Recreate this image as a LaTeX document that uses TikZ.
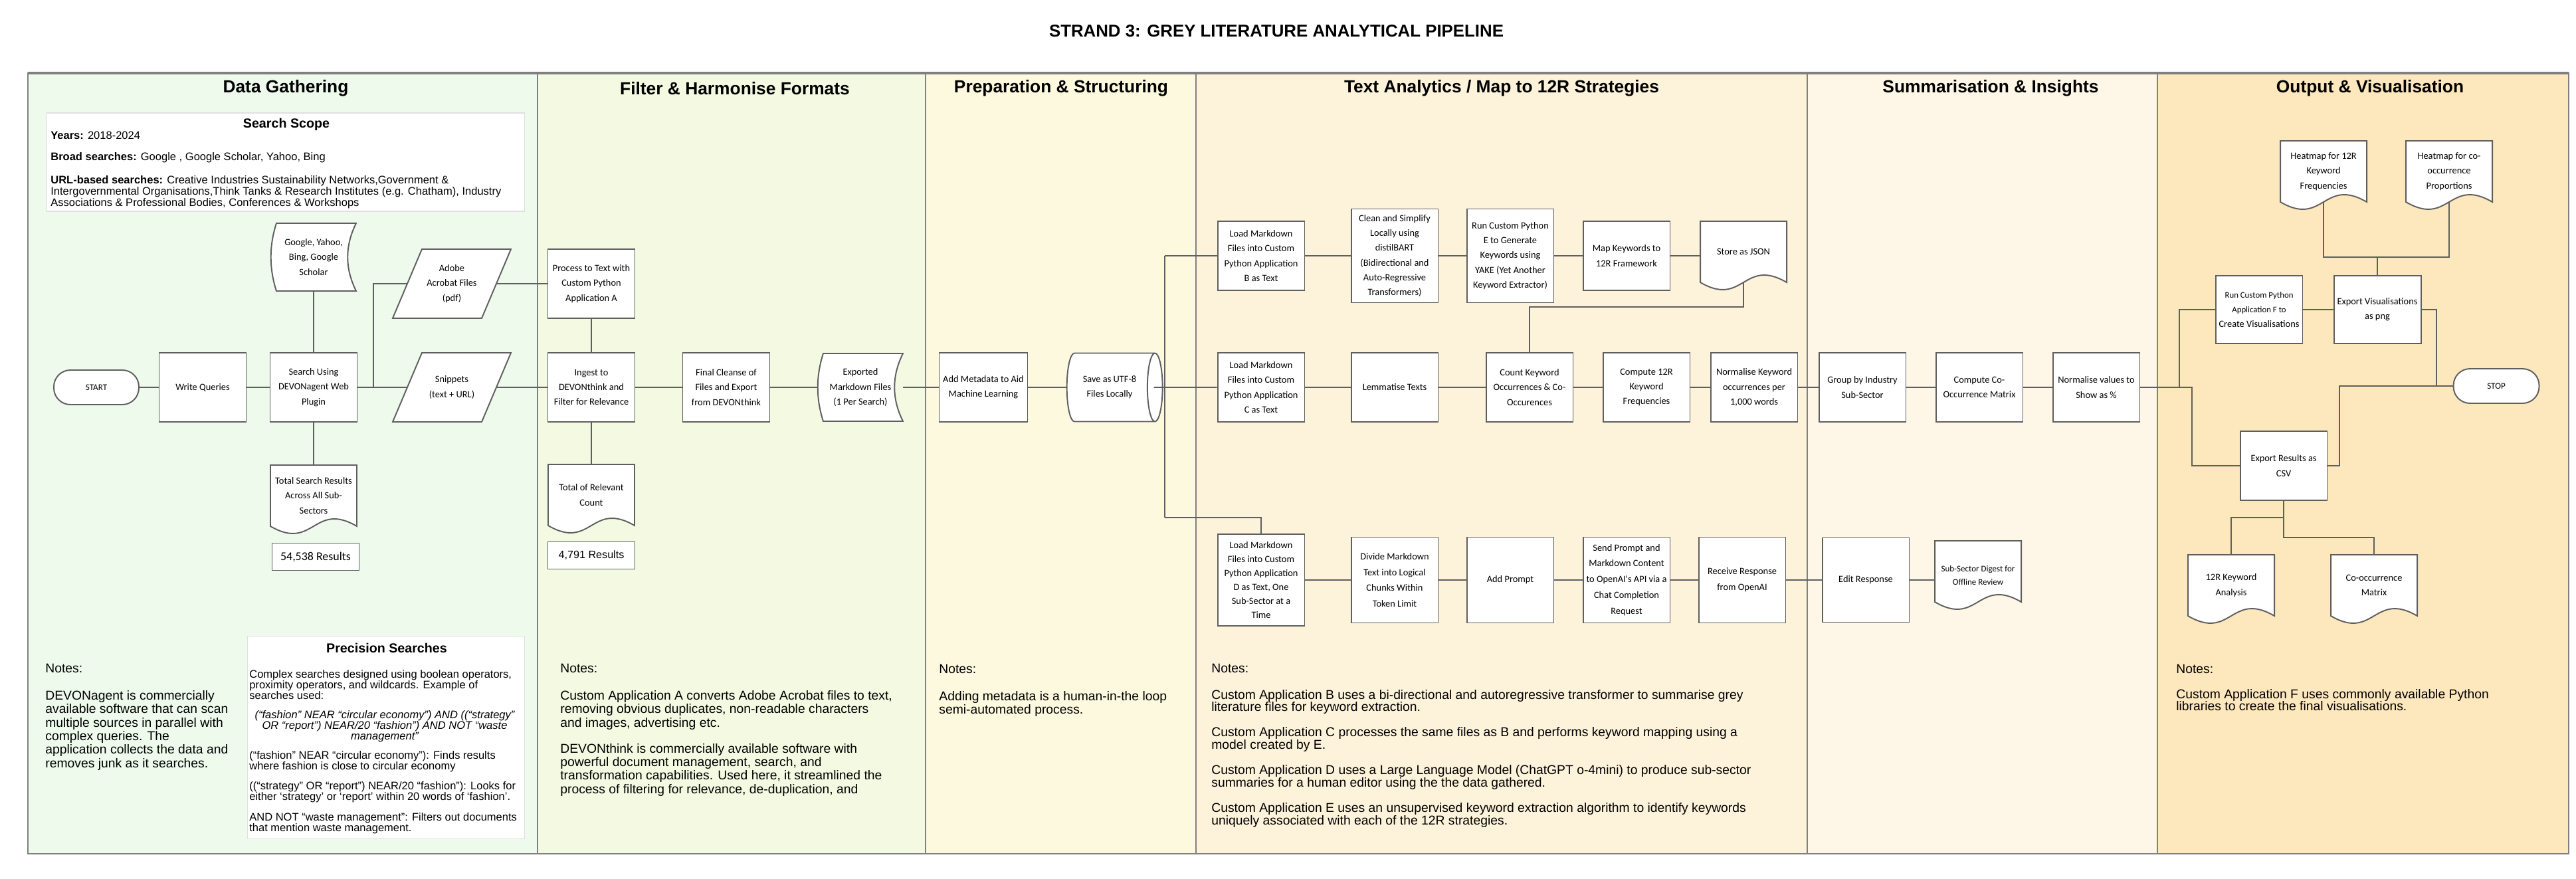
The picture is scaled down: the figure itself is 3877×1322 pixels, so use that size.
\documentclass[tikz,border=0pt]{standalone}
\usepackage{fontspec}
\setmainfont{Liberation Sans}
\newfontfamily\calibrifont{Carlito}
\usepackage{tikz}
\usetikzlibrary{shapes.geometric,positioning,calc}
\definecolor{lanegreen}{RGB}{237,250,236}
\definecolor{lanelime}{RGB}{244,250,226}
\definecolor{laneyellow}{RGB}{253,249,222}
\definecolor{lanepeach}{RGB}{253,242,218}
\definecolor{lanecream}{RGB}{254,247,231}
\definecolor{laneorange}{RGB}{253,231,189}
\definecolor{edgegrey}{RGB}{95,95,95}
\definecolor{laneline}{RGB}{128,128,128}
\newcommand{\boxfont}{\fontsize{8.2}{12.7}\selectfont\calibrifont}

\begin{document}
\begin{tikzpicture}[x=0.02cm, y=-0.02cm,
  lane/.style={draw=laneline, line width=1.1pt},
  lanetitle/.style={font=\fontsize{15}{18}\selectfont\bfseries},
  box/.style={rectangle, draw=edgegrey, line width=1.1pt, fill=white, minimum width=2.62cm,
    minimum height=2.08cm, align=center, inner sep=1pt, font=\boxfont},
  tall/.style={box, minimum height=2.82cm},
  rowd/.style={box, minimum height=2.58cm, font=\fontsize{8.2}{13.6}\selectfont\calibrifont},
  term/.style={box, rounded corners=0.5cm, minimum width=2.56cm, minimum height=1.04cm,
    font=\fontsize{7.5}{9}\selectfont\calibrifont},
  store/.style={cylinder, aspect=0.6, draw=edgegrey, line width=1.1pt, fill=white,
    minimum width=2.06cm, minimum height=2.88cm, align=center, inner sep=1pt, font=\boxfont},
  shapetext/.style={rectangle, minimum width=2.6cm, minimum height=1.84cm, inner sep=0pt,
    align=center, font=\boxfont},
  result/.style={box, minimum height=0.82cm, font=\fontsize{10.2}{12}\selectfont\calibrifont},
  conn/.style={draw=edgegrey, line width=1.1pt},
  notes/.style={anchor=north west, align=left, inner sep=0pt, font=\fontsize{11}{11.6}\selectfont},
  panel/.style={rectangle, fill=white, draw=black!12, line width=0.6pt},
  paneltitle/.style={font=\fontsize{11.2}{13}\selectfont\bfseries},
  paneltext/.style={inner sep=0pt, font=\fontsize{9.4}{9.2}\selectfont},
  docshape/.pic={\filldraw[draw=edgegrey, line width=1.1pt, fill=white]
    (-65,-46) -- (65,-46) -- (65,46) .. controls (0,8) and (0,84) .. (-65,46) -- cycle;},
  storedshape/.pic={\filldraw[draw=edgegrey, line width=1.1pt, fill=white]
    (-56,-51) -- (64,-51) .. controls (47,-17) and (47,17) .. (64,51)
    -- (-56,51) .. controls (-67,17) and (-67,-17) .. (-56,-51) -- cycle;},
  ioshape/.pic={\filldraw[draw=edgegrey, line width=1.1pt, fill=white]
    (-89,52) -- (45,52) -- (89,-52) -- (-45,-52) -- cycle;}]

\fill[white] (0,0) rectangle (3877,1322);
\useasboundingbox (0,0) rectangle (3877,1322);

% swimlanes
\draw[lane, fill=lanegreen] (42,110) rectangle (809,1285);
\draw[lane, fill=lanelime] (809,110) rectangle (1393,1285);
\draw[lane, fill=laneyellow] (1393,110) rectangle (1800,1285);
\draw[lane, fill=lanepeach] (1800,110) rectangle (2720,1285);
\draw[lane, fill=lanecream] (2720,110) rectangle (3247,1285);
\draw[lane, fill=laneorange] (3247,110) rectangle (3866,1285);
\draw[laneline, line width=2.4pt] (42,110) -- (3866,110);

\node[font=\fontsize{14.7}{17}\selectfont\bfseries] (title) at (1921,47) {STRAND 3: GREY LITERATURE ANALYTICAL PIPELINE};
\node[lanetitle] (gathering) at (430,133) {Data Gathering};
\node[lanetitle] (filtering) at (1106,133) {Filter \& Harmonise Formats};
\node[lanetitle] (preparing) at (1597,133) {Preparation \& Structuring};
\node[lanetitle] (analytics) at (2260,133) {Text Analytics / Map to 12R Strategies};
\node[lanetitle] (insights) at (2996,133) {Summarisation \& Insights};
\node[lanetitle] (outputs) at (3567,133) {Output \& Visualisation};

% search scope panel
\node[panel, minimum width=14.38cm, minimum height=2.96cm] (scope) at (430,244) {};
\node[paneltitle] (scopehead) at (431,187) {Search Scope};
\node[paneltext, anchor=north west, align=left, font=\fontsize{9.4}{9.64}\selectfont] (scopetext) at (76,198)
  {\textbf{Years:} 2018-2024\\[8.5pt]
   \textbf{Broad searches:} Google , Google Scholar, Yahoo, Bing\\[10.2pt]
   \textbf{URL-based searches:} Creative Industries Sustainability Networks,Government \&\\
   Intergovernmental Organisations,Think Tanks \& Research Institutes (e.g. Chatham), Industry\\
   Associations \& Professional Bodies, Conferences \& Workshops};

% data gathering
\node[term] (start) at (145,583) {START};
\node[box] (write) at (305,583) {Write Queries};
\node[box] (search) at (472,583) {Search Using\\DEVONagent Web\\Plugin};
\pic at (472,387) {storedshape};
\node[shapetext, minimum width=2.56cm, minimum height=2.04cm] (engines) at (472,387) {Google, Yahoo,\\Bing, Google\\Scholar};
\pic at (680,427) {ioshape};
\node[shapetext, minimum width=2.68cm, minimum height=2.08cm] (adobe) at (680,427) {Adobe\\Acrobat Files\\(pdf)};
\pic at (680,583) {ioshape};
\node[shapetext, minimum width=2.68cm, minimum height=2.08cm] (snippets) at (680,583) {Snippets\\(text + URL)};
\pic at (472,746) {docshape};
\node[shapetext] (total1) at (472,746) {Total Search Results\\Across All Sub-\\Sectors};
\node[result] (res1) at (475,838) {54,538 Results};

\node[notes] (notes1) at (68,999) {Notes:\\[11.6pt]DEVONagent is commercially\\available software that can scan\\multiple sources in parallel with\\complex queries. The\\application collects the data and\\removes junk as it searches.};

% precision searches panel
\node[panel, minimum width=8.34cm, minimum height=6.1cm] (precision) at (581,1110) {};
\node[paneltitle] (precisionhead) at (582,975) {Precision Searches};
\node[paneltext, anchor=north west, align=left] (precisionA) at (375,1008)
  {Complex searches designed using boolean operators,\\proximity operators, and wildcards. Example of\\searches used:};
\node[paneltext, anchor=north, align=center, font=\fontsize{9.4}{9.2}\selectfont\itshape] (precisionB) at (579,1069)
  {(“fashion” NEAR “circular economy”) AND ((“strategy”\\OR “report”) NEAR/20 “fashion”) AND NOT “waste\\management”};
\node[paneltext, anchor=north west, align=left] (precisionC) at (375,1130)
  {(“fashion” NEAR “circular economy”): Finds results\\where fashion is close to circular economy\\[8pt]
   ((“strategy” OR “report”) NEAR/20 “fashion”): Looks for\\either ‘strategy’ or ‘report’ within 20 words of ‘fashion’.\\[8pt]
   AND NOT “waste management”: Filters out documents\\that mention waste management.};

% filter and harmonise
\node[box] (process) at (890,427) {Process to Text with\\Custom Python\\Application A};
\node[box] (ingest) at (890,583) {Ingest to\\DEVONthink and\\Filter for Relevance};
\node[box] (final) at (1093,583) {Final Cleanse of\\Files and Export\\from DEVONthink};
\pic at (1295,583) {storedshape};
\node[shapetext, minimum width=2.56cm, minimum height=2.04cm] (exported) at (1295,583) {Exported\\Markdown Files\\(1 Per Search)};
\pic at (890,745) {docshape};
\node[shapetext] (total2) at (890,745) {Total of Relevant\\Count};
\node[result, font=\fontsize{9.2}{11}\selectfont] (res2) at (890,836) {4,791 Results};

\node[notes] (notes2) at (843,999) {Notes:\\[11.6pt]Custom Application A converts Adobe Acrobat files to text,\\removing obvious duplicates, non-readable characters\\and images, advertising etc.\\[10.5pt]DEVONthink is commercially available software with\\powerful document management, search, and\\transformation capabilities. Used here, it streamlined the\\process of filtering for relevance, de-duplication, and};

% preparation
\node[box, minimum width=2.66cm] (meta) at (1480,583) {Add Metadata to Aid\\Machine Learning};
\node[store] (save) at (1670,583) {Save as UTF-8\\Files Locally};

\node[notes] (notes3) at (1413,1000) {Notes:\\[11.6pt]Adding metadata is a human-in-the loop\\semi-automated process.};

% text analytics
\coordinate (busT) at (1753,385);
\coordinate (busB) at (1753,779);
\node[box] (loadB) at (1898,385) {Load Markdown\\Files into Custom\\Python Application\\B  as Text};
\node[tall] (clean) at (2099,385) {Clean and Simplify\\Locally using\\distilBART\\(Bidirectional and\\Auto-Regressive\\Transformers)};
\node[tall] (runE) at (2273,385) {Run Custom Python\\E to Generate\\Keywords using\\YAKE (Yet Another\\Keyword Extractor)};
\node[box] (map) at (2448,385) {Map Keywords to\\12R Framework};
\pic at (2624,379) {docshape};
\node[shapetext] (json) at (2624,379) {Store as JSON};
\coordinate (jsonjoin) at (2302,462);

\node[box] (loadC) at (1898,583) {Load Markdown\\Files  into Custom\\Python Application\\C as Text};
\node[box] (lemma) at (2099,583) {Lemmatise Texts};
\node[box] (count) at (2302,583) {Count Keyword\\Occurrences \& Co-\\Occurences};
\node[box] (freq) at (2478,583) {Compute 12R\\Keyword\\Frequencies};
\node[box] (norm) at (2640,583) {Normalise Keyword\\occurrences per\\1,000 words};

\node[box, minimum height=2.76cm, font=\fontsize{8.2}{11.9}\selectfont\calibrifont] (loadD) at (1898,873) {Load Markdown\\Files into Custom\\Python Application\\D as Text, One\\Sub-Sector at a\\Time};
\node[rowd] (divide) at (2099,873) {Divide Markdown\\Text into Logical\\Chunks Within\\Token Limit};
\node[rowd] (prompt) at (2273,873) {Add Prompt};
\node[rowd] (send) at (2448,873) {Send Prompt and\\Markdown Content\\to OpenAI's API via a\\Chat Completion\\Request};
\node[rowd] (receive) at (2622,873) {Receive Response\\from OpenAI};

\node[notes, font=\fontsize{11}{10.4}\selectfont] (notes4) at (1823,999) {Notes:\\[12pt]Custom Application B uses a bi-directional and autoregressive transformer to summarise grey\\literature files for keyword extraction.\\[11.6pt]Custom Application C processes the same files as B and performs keyword mapping using a\\model created by E.\\[11.6pt]Custom Application D uses a Large Language Model (ChatGPT o-4mini) to produce sub-sector\\summaries for a human editor using the the data gathered.\\[11.6pt]Custom Application E uses an unsupervised keyword extraction algorithm to identify keywords\\uniquely associated with each of the 12R strategies.};

% summarisation
\node[box] (group) at (2803,583) {Group by Industry\\Sub-Sector};
\node[box] (coocc) at (2979,583) {Compute Co-\\Occurrence Matrix};
\node[box] (pct) at (3155,583) {Normalise values to\\Show as \%};
\node[box, minimum height=2.54cm] (edit) at (2808,873) {Edit Response};
\pic at (2977,860) {docshape};
\node[shapetext, font=\fontsize{7.4}{11}\selectfont\calibrifont] (digest) at (2977,866) {Sub-Sector Digest for\\Offline Review};

% output
\pic at (3497,258) {docshape};
\node[shapetext] (heat1) at (3497,258) {Heatmap for 12R\\Keyword\\Frequencies};
\pic at (3686,258) {docshape};
\node[shapetext] (heat2) at (3686,258) {Heatmap for co-\\occurrence\\Proportions};
\coordinate (heatjoin) at (3578,387);
\node[box, minimum height=2.04cm] (runF) at (3400,466) {{\fontsize{7.3}{11}\selectfont Run Custom Python}\\{\fontsize{7.3}{11}\selectfont Application F to}\\Create Visualisations};
\node[box, minimum height=2.04cm] (exportvis) at (3578,466) {Export Visualisations\\as png};
\node[box] (csv) at (3437,701) {Export Results as\\CSV};
\node[term, minimum width=2.58cm] (stop) at (3757,581) {STOP};
\pic at (3358,881) {docshape};
\node[shapetext] (kw) at (3358,881) {12R Keyword\\Analysis};
\pic at (3573,881) {docshape};
\node[shapetext] (mat) at (3573,881) {Co-occurrence\\Matrix};
\coordinate (outjoinA) at (3280,583);
\coordinate (outjoinB) at (3299,583);
\coordinate (stopjoin) at (3667,581);
\coordinate (csvjoin) at (3521,581);
\coordinate (csvjoinA) at (3437,779);
\coordinate (csvjoinB) at (3437,809);

\node[notes, font=\fontsize{11}{10.6}\selectfont] (notes6) at (3275,1000) {Notes:\\[10.8pt]Custom Application F uses commonly available Python\\libraries to create the final visualisations.};

% connectors
\coordinate (srcjoin) at (562,583);
\draw[conn] (start) -- (write);
\draw[conn] (write) -- (search);
\draw[conn] (search) -- (snippets);
\draw[conn] (engines) -- (search);
\draw[conn] (srcjoin) |- (adobe.west);
\draw[conn] (search) -- (total1);
\draw[conn] (adobe) -- (process);
\draw[conn] (snippets) -- (ingest);
\draw[conn] (process) -- (ingest);
\draw[conn] (ingest) -- (total2);
\draw[conn] (ingest) -- (final);
\draw[conn] (final) -- (exported);
\draw[conn] (exported) -- (meta);
\draw[conn] (meta) -- (save);
\draw[conn] ($(save.east)+(-14,0)$) -- (loadC);
\draw[conn] (busT) -- (busB);
\draw[conn] (busT) -- (loadB);
\draw[conn] (busB) -| (loadD);
\draw[conn] (loadB) -- (clean);
\draw[conn] (clean) -- (runE);
\draw[conn] (runE) -- (map);
\draw[conn] (map.east) -- (map.east -| json.west);
\draw[conn] (json.south) |- (jsonjoin) -- (count);
\draw[conn] (loadC) -- (lemma);
\draw[conn] (lemma) -- (count);
\draw[conn] (count) -- (freq);
\draw[conn] (freq) -- (norm);
\draw[conn] (norm) -- (group);
\draw[conn] (group) -- (coocc);
\draw[conn] (coocc) -- (pct);
\draw[conn] (loadD) -- (divide);
\draw[conn] (divide) -- (prompt);
\draw[conn] (prompt) -- (send);
\draw[conn] (send) -- (receive);
\draw[conn] (receive) -- (edit);
\draw[conn] (edit.east) -- (edit.east -| digest.west);
\draw[conn] (pct) -- (outjoinB) |- (csv);
\draw[conn] (outjoinA) |- (runF);
\draw[conn] (runF) -- (exportvis);
\draw[conn] (heat1.south) |- (heatjoin) -| (heat2.south);
\draw[conn] (heatjoin) -- (exportvis);
\draw[conn] (exportvis.east) -| (stopjoin) -- (stop);
\draw[conn] (csv.east) -| (csvjoin) -- (stopjoin);
\draw[conn] (csv.south) -- (csvjoinB) -| (mat);
\draw[conn] (csvjoinA) -| (kw);
\end{tikzpicture}
\end{document}
